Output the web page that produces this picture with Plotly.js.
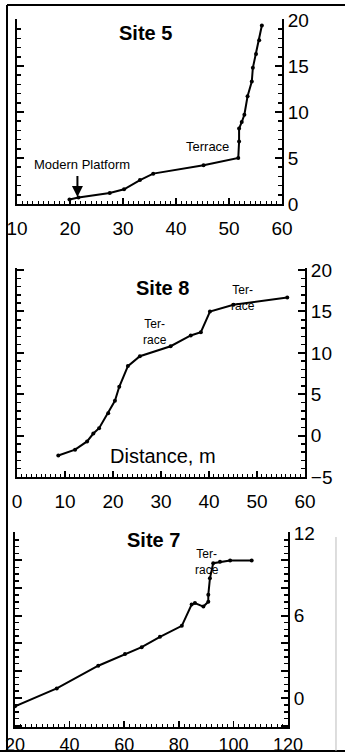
<!DOCTYPE html>
<html>
<head>
<meta charset="utf-8">
<script src="https://cdn.plot.ly/plotly-3.0.1.min.js"></script>
<style>
  html, body { margin: 0; padding: 0; background: #fff; }
  #chart { width: 345px; height: 755px; }
</style>
</head>
<body>
<div id="chart"></div>
<script>
// Site 5 profile (distance m, elevation m)
var site5X = [19.9, 21.6, 27.5, 30.2, 33.2, 35.7, 45.2, 51.75, 51.9, 51.9, 52.4, 52.9, 53.5, 54.3, 54.5, 55.1, 55.7, 56.2];
var site5Y = [0.5, 0.7, 1.2, 1.6, 2.6, 3.3, 4.2, 5.0, 6.8, 8.2, 8.9, 9.7, 11.7, 13.3, 14.8, 16.3, 17.8, 19.4];

// Site 8 profile
var site8X = [8.6, 12.1, 14.6, 15.9, 17.1, 19.0, 20.4, 21.3, 23.1, 25.6, 32.0, 36.2, 38.3, 40.2, 45.1, 56.3];
var site8Y = [-2.4, -1.7, -0.7, 0.25, 0.9, 2.7, 4.2, 5.9, 8.4, 9.6, 10.8, 12.1, 12.5, 15.0, 15.8, 16.7];

// Site 7 profile
var site7X = [20, 35.3, 50.5, 60.3, 66.4, 73.1, 81.1, 84.7, 85.9, 89.0, 90.8, 90.8, 91.4, 92.6, 95.1, 98.8, 106.7];
var site7Y = [-0.6, 0.7, 2.35, 3.2, 3.7, 4.45, 5.25, 6.8, 6.9, 6.65, 7.0, 7.5, 8.7, 9.8, 9.9, 10.0, 10.0];

// Tick labels
var site7YTicks = [-2, 0, 2, 4, 6, 8, 10, 12];
var site7YText = ['', '0', '', '', '6', '', '', '12'];

var FONT = 'Liberation Sans, Arial, Helvetica, sans-serif';
var lineStyle = {color: '#000', width: 2};
var markerStyle = {color: '#000', size: 4};

var traces = [
  {x: site5X, y: site5Y, xaxis: 'x', yaxis: 'y', mode: 'lines+markers', line: lineStyle, marker: markerStyle, hoverinfo: 'skip'},
  {x: site8X, y: site8Y, xaxis: 'x2', yaxis: 'y2', mode: 'lines+markers', line: lineStyle, marker: markerStyle, hoverinfo: 'skip'},
  {x: site7X, y: site7Y, xaxis: 'x3', yaxis: 'y3', mode: 'lines+markers', line: lineStyle, marker: markerStyle, hoverinfo: 'skip'}
];

function xAxis(domain, range, dtick, minorDtick, anchor, fontSize, standoff) {
  return {
    domain: domain, range: range, anchor: anchor, dtick: dtick, tick0: 0,
    showgrid: false, zeroline: false, showline: true, linecolor: '#000', linewidth: 2,
    ticks: 'inside', ticklen: 6, tickwidth: 1.5, tickcolor: '#000',
    minor: {dtick: minorDtick, ticks: 'inside', ticklen: 3, tickwidth: 1, tickcolor: '#000'},
    tickfont: {family: FONT, size: fontSize, color: '#000'},
    ticklabelstandoff: standoff, fixedrange: true
  };
}
function yAxis(domain, range, anchor, extra) {
  var ax = {
    domain: domain, range: range, anchor: anchor, side: 'right',
    showgrid: false, zeroline: false, showline: true, linecolor: '#000', linewidth: 2,
    mirror: 'ticks',
    ticks: 'inside', ticklen: 7, tickwidth: 2, tickcolor: '#000',
    tickfont: {family: FONT, size: 19, color: '#000'},
    ticklabelstandoff: 0, fixedrange: true
  };
  for (var k in extra) ax[k] = extra[k];
  return ax;
}

function ann(text, x, y, size, bold) {
  return {text: bold ? '<b>' + text + '</b>' : text, x: x, y: y, xref: 'paper', yref: 'paper',
          showarrow: false, xanchor: 'center', yanchor: 'middle',
          font: {family: FONT, size: size, color: '#000'}};
}

var layout = {
  width: 345, height: 755,
  margin: {l: 0, r: 0, t: 0, b: 0},
  paper_bgcolor: '#fff', plot_bgcolor: '#fff',
  showlegend: false,
  xaxis: xAxis([0.0493, 0.8174], [10, 60], 10, 1, 'y', 19, 6),
  yaxis: yAxis([0.7298, 0.9748], [0, 20.1], 'x', {dtick: 5, tick0: 0, minor: {dtick: 1, ticks: 'inside', ticklen: 4, tickwidth: 1.5, tickcolor: '#000'}}),
  xaxis2: xAxis([0.0493, 0.8841], [0, 60], 10, 1, 'y2', 19, 6),
  yaxis2: yAxis([0.3682, 0.6450], [-5, 20.25], 'x2', {dtick: 5, tick0: 0, minor: {dtick: 1, ticks: 'inside', ticklen: 4, tickwidth: 1.5, tickcolor: '#000'}}),
  xaxis3: xAxis([0.0435, 0.8348], [20, 120], 20, 2, 'y3', 18, 0),
  yaxis3: yAxis([0.0371, 0.2954], [-2.1, 12.07], 'x3', {tickmode: 'array', tickvals: site7YTicks, ticktext: site7YText, minor: {dtick: 0.5, ticks: 'inside', ticklen: 4, tickwidth: 1.5, tickcolor: '#000'}}),
  annotations: [
    ann('Site 5', 0.4203, 0.9563, 20, true),
    ann('Site 8', 0.4696, 0.6185, 20, true),
    ann('Site 7', 0.4435, 0.2848, 20, true),
    ann('Modern Platform', 0.2377, 0.7815, 13, false),
    ann('Terrace', 0.600, 0.8066, 13, false),
    ann('Ter-<br>race', 0.4493, 0.5603, 12, false),
    ann('Ter-<br>race', 0.7043, 0.6053, 12, false),
    ann('Distance, m', 0.4725, 0.3960, 20, false),
    ann('Ter-<br>race', 0.600, 0.2556, 12, false),
    {text: ' ', x: 21.4, y: 0.76, xref: 'x', yref: 'y', showarrow: true,
     ax: 0, ay: -24, arrowhead: 2, arrowsize: 1.1, arrowwidth: 2, arrowcolor: '#000', standoff: 0,
     font: {size: 2}}
  ],
  shapes: [
    {type: 'line', xref: 'paper', yref: 'paper', x0: 0.0203, x1: 0.0203, y0: 0.0053, y1: 0.9934, line: {color: '#000', width: 2}},
    {type: 'line', xref: 'paper', yref: 'paper', x0: 0.0203, x1: 1, y0: 0.9934, y1: 0.9934, line: {color: '#000', width: 2}},
    {type: 'line', xref: 'paper', yref: 'paper', x0: 0, x1: 1, y0: 0.0053, y1: 0.0053, line: {color: '#000', width: 2}},
    {type: 'line', xref: 'paper', yref: 'paper', x0: 0.9739, x1: 0.9739, y0: 0.0053, y1: 0.2887, line: {color: '#bbb', width: 1}}
  ]
};

Plotly.newPlot('chart', traces, layout, {displayModeBar: false, staticPlot: true});
</script>
</body>
</html>
